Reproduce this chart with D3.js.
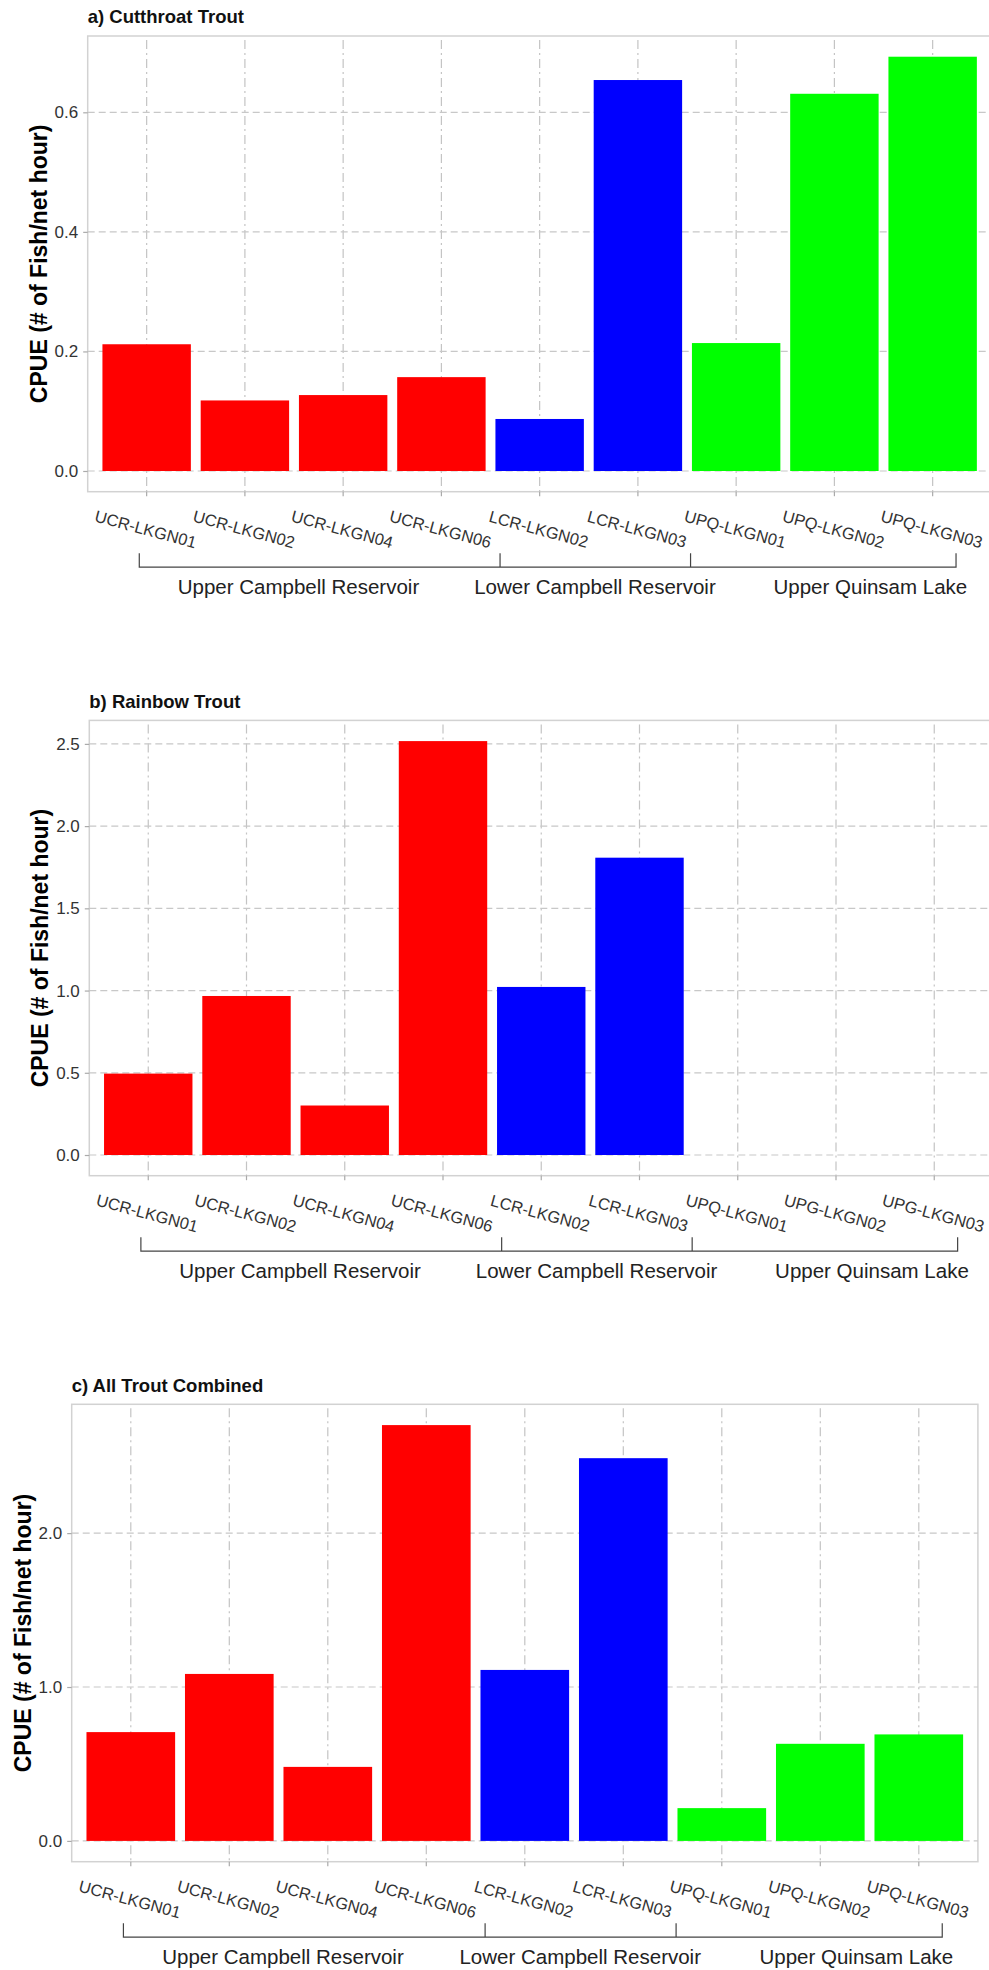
<!DOCTYPE html>
<html>
<head>
<meta charset="utf-8">
<script src="https://cdn.jsdelivr.net/npm/d3@7"></script>
<style>
  body { margin: 0; background: #fff; }
  svg { display: block; font-family: "Liberation Sans", Arial, sans-serif; }
</style>
</head>
<body>
<svg id="chart" width="989" height="1970"></svg>
<script>
// sites along the x axis, in plot order
const sites = ['UCR-LKGN01', 'UCR-LKGN02', 'UCR-LKGN04', 'UCR-LKGN06',
  'LCR-LKGN02', 'LCR-LKGN03', 'UPQ-LKGN01', 'UPQ-LKGN02', 'UPQ-LKGN03'];
// panel b has its own tick text (typo kept as in the original)
const labelsB = ['UCR-LKGN01', 'UCR-LKGN02', 'UCR-LKGN04', 'UCR-LKGN06',
  'LCR-LKGN02', 'LCR-LKGN03', 'UPQ-LKGN01', 'UPG-LKGN02', 'UPG-LKGN03'];
const waterbody = ['UCR', 'UCR', 'UCR', 'UCR', 'LCR', 'LCR', 'UPQ', 'UPQ', 'UPQ'];

// CPUE (# of fish / net hour)
const cutthroat = [0.212, 0.118, 0.127, 0.157, 0.087, 0.654, 0.214, 0.631, 0.693];
const rainbow = [0.495, 0.967, 0.301, 2.517, 1.022, 1.808, 0, 0, 0];
const combined = [0.707, 1.085, 0.481, 2.702, 1.111, 2.487, 0.213, 0.631, 0.692];

const ticksA = [0, 0.2, 0.4, 0.6];
const ticksB = [0, 0.5, 1.0, 1.5, 2.0, 2.5];
const ticksC = [0, 1.0, 2.0];

const groupNames = ['Upper Campbell Reservoir', 'Lower Campbell Reservoir', 'Upper Quinsam Lake'];
// annotation positions, in category units (0 = first site)
const groupLabelAt = [1.545, 4.563, 7.366];
const bracketAt = [-0.075, 3.597, 5.536, 8.238];

const colors = { UCR: '#ff0000', LCR: '#0000ff', UPQ: '#00ff00' };

const panels = [
  { title: 'a) Cutthroat Trout', values: cutthroat, labels: sites, ticks: ticksA,
    left: 87.7, top: 36, bottom: 491.7 },
  { title: 'b) Rainbow Trout', values: rainbow, labels: labelsB, ticks: ticksB,
    left: 89.3, top: 720.4, bottom: 1175.7 },
  { title: 'c) All Trout Combined', values: combined, labels: sites, ticks: ticksC,
    left: 71.7, top: 1404.3, bottom: 1861.7, step: 98.5 },
];

const svg = d3.select('#chart');

function drawPanel(p) {
  const step = p.step || 98.25;
  const right = p.left + step * 9.2;
  const x = d3.scaleBand()
    .domain(sites)
    .range([p.left, right])
    .paddingInner(0.1)
    .paddingOuter(0.15);
  const ymax = d3.max(p.values);
  const y = d3.scaleLinear()
    .domain([-0.05 * ymax, 1.05 * ymax])
    .range([p.bottom, p.top]);
  const cx0 = x(sites[0]) + x.bandwidth() / 2;
  const ux = (u) => cx0 + u * x.step();

  const g = svg.append('g');

  // panel background + border
  g.append('rect')
    .attr('x', p.left)
    .attr('y', p.top)
    .attr('width', right - p.left)
    .attr('height', p.bottom - p.top)
    .attr('fill', '#fff')
    .attr('stroke', '#d2d2d2')
    .attr('stroke-width', 1.5);

  // vertical grid (dot-dash)
  g.selectAll('.vgrid')
    .data(sites)
    .join('line')
    .attr('x1', (d) => x(d) + x.bandwidth() / 2)
    .attr('x2', (d) => x(d) + x.bandwidth() / 2)
    .attr('y1', p.top + 4)
    .attr('y2', p.bottom)
    .attr('stroke', '#c4c4c4')
    .attr('stroke-width', 1.2)
    .attr('stroke-dasharray', '9,4,2,4');

  // horizontal grid (dashed)
  g.selectAll('.hgrid')
    .data(p.ticks)
    .join('line')
    .attr('x1', p.left)
    .attr('x2', right)
    .attr('y1', (d) => y(d))
    .attr('y2', (d) => y(d))
    .attr('stroke', '#c8c8c8')
    .attr('stroke-width', 1.2)
    .attr('stroke-dasharray', '7,4');

  // bars
  g.selectAll('.bar')
    .data(p.values.map((v, i) => ({ site: sites[i], v, grp: waterbody[i] })).filter((d) => d.v > 0))
    .join('rect')
    .attr('x', (d) => x(d.site))
    .attr('width', x.bandwidth())
    .attr('y', (d) => y(d.v))
    .attr('height', (d) => y(0) - y(d.v))
    .attr('fill', (d) => colors[d.grp]);

  // y axis
  const yAxis = g.append('g')
    .attr('transform', `translate(${p.left},0)`)
    .call(d3.axisLeft(y).tickValues(p.ticks).tickFormat(d3.format('.1f')).tickSize(4.5).tickPadding(5));
  yAxis.select('.domain').remove();
  yAxis.selectAll('.tick line').attr('stroke', '#aaa').attr('stroke-width', 1.2);
  yAxis.selectAll('.tick text')
    .attr('fill', '#333')
    .style('font-size', '17px');

  // x axis with slanted labels
  const xAxis = g.append('g')
    .attr('transform', `translate(0,${p.bottom})`)
    .call(d3.axisBottom(x).tickSize(4.5).tickFormat((d, i) => p.labels[i]));
  xAxis.select('.domain').remove();
  xAxis.selectAll('.tick line').attr('stroke', '#aaa').attr('stroke-width', 1.2);
  xAxis.selectAll('.tick text')
    .attr('y', 0)
    .attr('dy', '0.35em')
    .attr('transform', 'translate(-1,37.5) rotate(15)')
    .attr('text-anchor', 'middle')
    .attr('fill', '#333')
    .style('font-size', '16.5px');

  // waterbody bracket
  const by0 = p.bottom + 61.5;
  const by1 = p.bottom + 75.5;
  g.append('path')
    .attr('d', `M${ux(bracketAt[0])},${by0}V${by1}H${ux(bracketAt[3])}V${by0}`
      + `M${ux(bracketAt[1])},${by0}V${by1}M${ux(bracketAt[2])},${by0}V${by1}`)
    .attr('fill', 'none')
    .attr('stroke', '#444')
    .attr('stroke-width', 1.2);

  g.selectAll('.grp')
    .data(groupNames)
    .join('text')
    .attr('x', (d, i) => ux(groupLabelAt[i]))
    .attr('y', p.bottom + 102)
    .attr('text-anchor', 'middle')
    .attr('fill', '#222')
    .style('font-size', '20.5px')
    .text((d) => d);

  // titles
  g.append('text')
    .attr('x', p.left)
    .attr('y', p.top - 12.8)
    .attr('fill', '#111')
    .style('font-size', '18.5px')
    .style('font-weight', 'bold')
    .text(p.title);

  g.append('text')
    .attr('transform', `translate(${p.left - 49},${(p.top + p.bottom) / 2}) rotate(-90)`)
    .attr('text-anchor', 'middle')
    .attr('dy', '0.35em')
    .attr('fill', '#000')
    .style('font-size', '23px')
    .style('font-weight', 'bold')
    .text('CPUE (# of Fish/net hour)');
}

panels.forEach(drawPanel);
</script>
</body>
</html>
